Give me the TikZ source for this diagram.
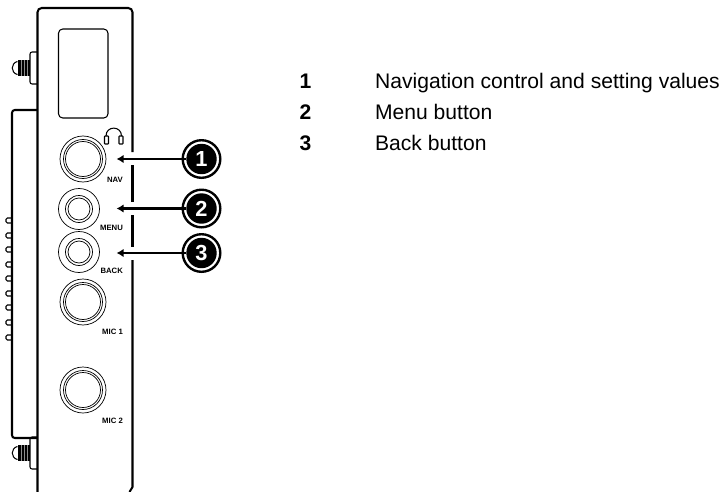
\documentclass[tikz,border=0pt]{standalone}
\usepackage{fontspec}
\setmainfont{Liberation Sans}
\usetikzlibrary{arrows.meta}
\tikzset{
  edge/.style={black,line width=2.9pt},
  ring/.style={black,line width=1pt},
  thin edge/.style={black,line width=1.5pt},
  thread/.style={black!45,line width=0.6pt},
  callout/.style={circle,fill=black,text=white,inner sep=0pt,minimum size=1.52cm,font=\fontsize{31}{31}\selectfont\bfseries},
  pointer/.style={black,line width=2.9pt,-{Latex[length=10pt,width=12pt]}},
  tag/.style={inner sep=0pt,anchor=east,font=\fontsize{11}{11}\selectfont\bfseries},
  keynum/.style={inner sep=0pt,anchor=base west,font=\fontsize{30}{30}\selectfont\bfseries},
  keytext/.style={inner sep=0pt,anchor=base west,font=\fontsize{30}{30}\selectfont}
}
\begin{document}
\begin{tikzpicture}[x=0.05cm,y=0.05cm]
    \useasboundingbox (0,0) rectangle (723,-492);
    % front panel
    \draw [edge,rounded corners=6pt] (37.5,-492) -- (37.5,-8) -- (132.5,-8) -- (132.5,-152);
    \draw [edge] (132.5,-165) -- (132.5,-202);
    \draw [edge] (132.5,-215) -- (132.5,-247);
    \draw [edge] (132.5,-260) -- (132.5,-487) -- (129.5,-492);
    \draw [thin edge,rounded corners=6pt] (58.5,-29) rectangle (108,-118);
    % rear housing
    \draw [edge,rounded corners=4pt] (37,-110) -- (12,-110) -- (12,-438) -- (37,-438);
    \draw [thin edge,rounded corners=2pt] (12,-218) -- (6,-218) -- (6,-223) -- (12,-223);
    \draw [thin edge,rounded corners=2pt] (12,-233) -- (6,-233) -- (6,-238) -- (12,-238);
    \draw [thin edge,rounded corners=2pt] (12,-247) -- (6,-247) -- (6,-252) -- (12,-252);
    \draw [thin edge,rounded corners=2pt] (12,-262) -- (6,-262) -- (6,-267) -- (12,-267);
    \draw [thin edge,rounded corners=2pt] (12,-276) -- (6,-276) -- (6,-281) -- (12,-281);
    \draw [thin edge,rounded corners=2pt] (12,-291) -- (6,-291) -- (6,-296) -- (12,-296);
    \draw [thin edge,rounded corners=2pt] (12,-305) -- (6,-305) -- (6,-310) -- (12,-310);
    \draw [thin edge,rounded corners=2pt] (12,-320) -- (6,-320) -- (6,-325) -- (12,-325);
    \draw [thin edge,rounded corners=2pt] (12,-335) -- (6,-335) -- (6,-340) -- (12,-340);
    % screws
    \draw [thin edge,rounded corners=3pt] (37,-52) -- (30,-52) -- (30,-84) -- (37,-84);
    \fill [black] (17.5,-60) rectangle (30,-76);
    \draw [thin edge] (17.5,-61.5) .. controls (10.5,-63) and (10.5,-73) .. (17.5,-74.5);
    \draw [thread] (21,-60) -- (21,-76);
    \draw [thread] (24,-60) -- (24,-76);
    \draw [thread] (27,-60) -- (27,-76);
    \draw [thin edge,rounded corners=3pt] (37,-437) -- (30,-437) -- (30,-469) -- (37,-469);
    \fill [black] (17.5,-445) rectangle (30,-461);
    \draw [thin edge] (17.5,-446.5) .. controls (10.5,-448) and (10.5,-458) .. (17.5,-459.5);
    \draw [thread] (21,-445) -- (21,-461);
    \draw [thread] (24,-445) -- (24,-461);
    \draw [thread] (27,-445) -- (27,-461);
    % buttons
    \draw [ring] (83,-159) circle (23);
    \draw [ring] (83,-159) circle (19.5);
    \draw [ring] (83,-159) circle (17.5);
    \draw [ring] (79,-209) circle (20.5);
    \draw [ring] (79,-209) circle (13.5);
    \draw [ring] (79,-209) circle (11);
    \draw [ring] (79,-252) circle (20.5);
    \draw [ring] (79,-252) circle (13.5);
    \draw [ring] (79,-252) circle (11);
    \draw [ring] (83,-302) circle (23);
    \draw [ring] (83,-302) circle (19.5);
    \draw [ring] (83,-302) circle (17.5);
    \draw [ring] (83,-390) circle (23);
    \draw [ring] (83,-390) circle (19.5);
    \draw [ring] (83,-390) circle (17.5);
    % headphones
    \draw [thin edge] (106,-136) .. controls (106,-125.5) and (121.5,-125.5) .. (121.5,-136);
    \draw [thin edge,rounded corners=1pt] (104.5,-136) rectangle (108.5,-144);
    \draw [thin edge,rounded corners=1pt] (119,-136) rectangle (123,-144);
    % button names
    \node (navtag) [tag] at (123,-179.5) {NAV};
    \node (menutag) [tag] at (123,-228) {MENU};
    \node (backtag) [tag] at (123,-271) {BACK};
    \node (miconetag) [tag] at (123,-332) {MIC 1};
    \node (mictwotag) [tag] at (123,-420.5) {MIC 2};
    % callouts
    \node (one) [callout] at (201.5,-159) {1};
    \node (two) [callout] at (201.5,-208.5) {2};
    \node (three) [callout] at (201.5,-253) {3};
    \draw [black,line width=3.4pt] (201.5,-159) circle (18.8);
    \draw [black,line width=3.4pt] (201.5,-208.5) circle (18.8);
    \draw [black,line width=3.4pt] (201.5,-253) circle (18.8);
    \coordinate (navtip) at (116.5,-159);
    \coordinate (menutip) at (116.5,-208.5);
    \coordinate (backtip) at (116.5,-253);
    \draw [pointer] (one) -- (navtip);
    \draw [pointer] (two) -- (menutip);
    \draw [pointer] (three) -- (backtip);
    % key
    \node (keyone) [keynum] at (299.5,-88.5) {1};
    \node (textone) [keytext] at (375,-88.5) {Navigation control and setting values};
    \node (keytwo) [keynum] at (299.5,-119.5) {2};
    \node (texttwo) [keytext] at (375,-119.5) {Menu button};
    \node (keythree) [keynum] at (299.5,-150) {3};
    \node (textthree) [keytext] at (375,-150) {Back button};
\end{tikzpicture}
\end{document}
